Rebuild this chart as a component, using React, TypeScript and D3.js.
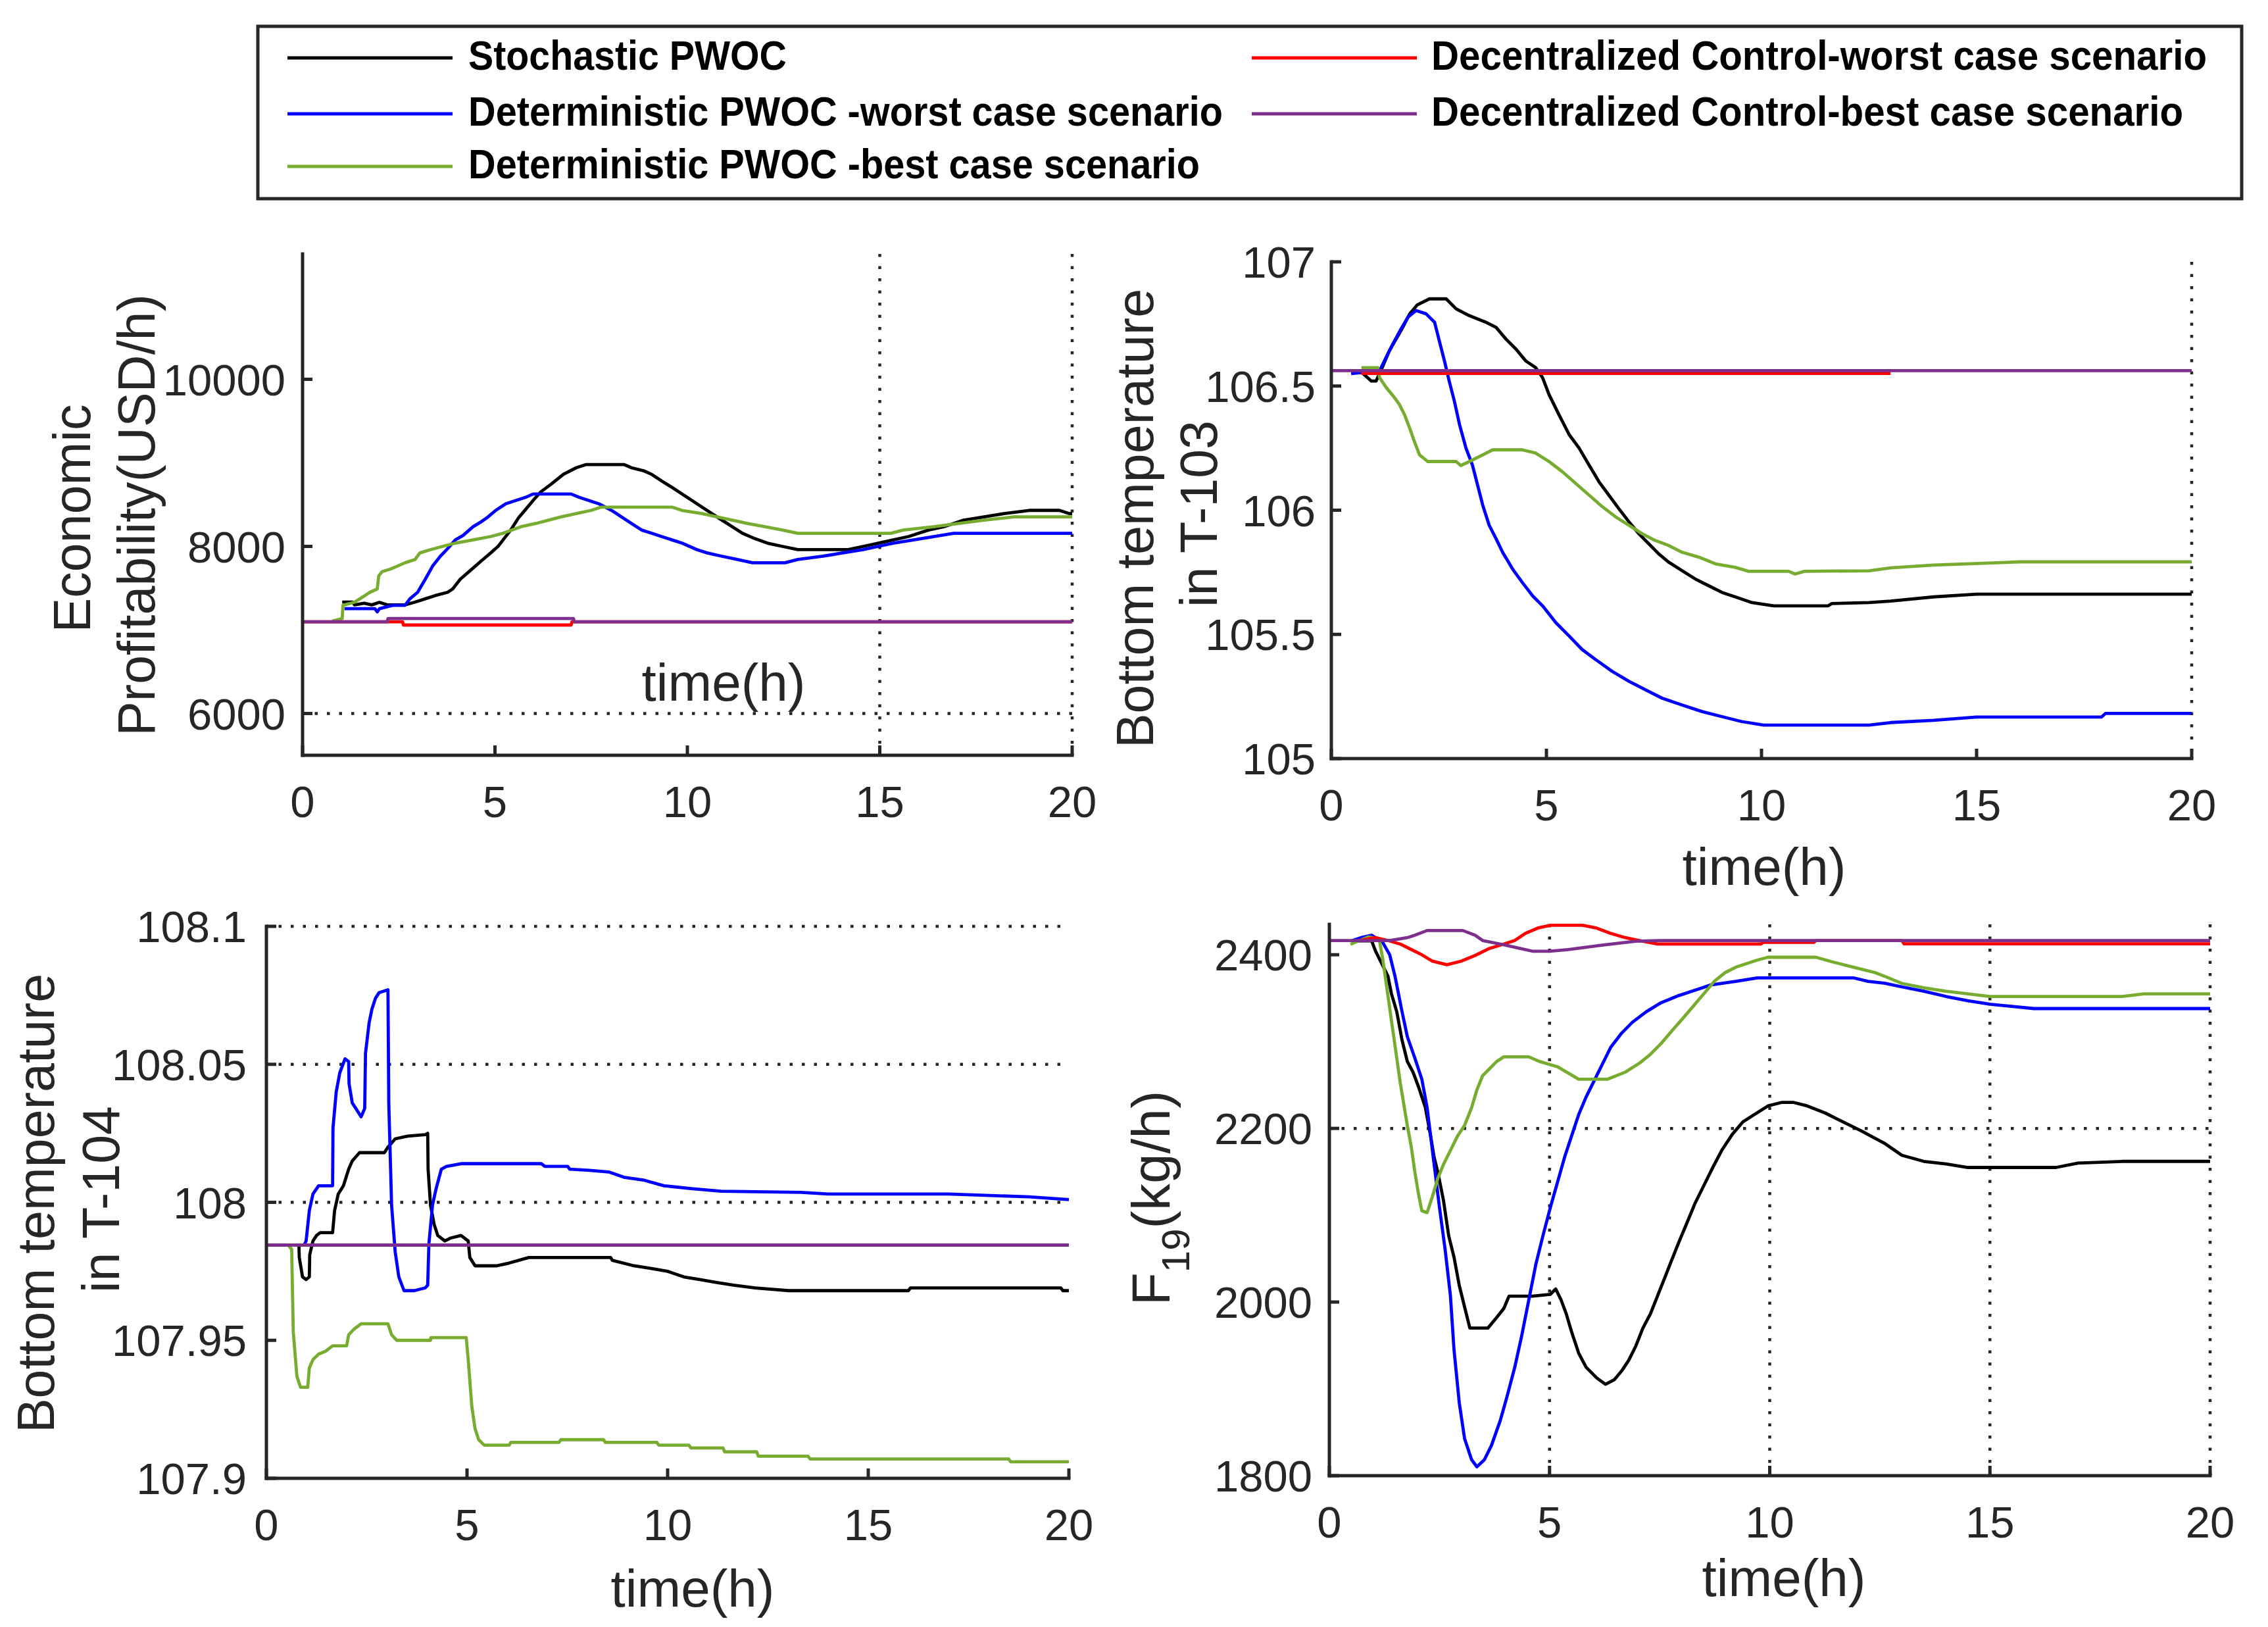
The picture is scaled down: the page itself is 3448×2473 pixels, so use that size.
import React from "react";
import * as d3 from "d3";

type Pt = [number, number];

const W = 3448;
const H = 2473;
const FONT = "'Liberation Sans', Arial, Helvetica, sans-serif";
const AXIS = "#262626";

// ---------- legend ----------
const seriesNames = [
  "Stochastic PWOC",
  "Deterministic PWOC -worst case scenario",
  "Deterministic PWOC -best case scenario",
  "Decentralized Control-worst case scenario",
  "Decentralized Control-best case scenario",
];
const seriesColors = ["#000000", "#0000FF", "#77AC30", "#FF0000", "#7E2F8E"];

// ---------- ticks ----------
const xTicks = [0, 5, 10, 15, 20];
const p1YTicks = [6000, 8000, 10000];
const p2YTicks = [105, 105.5, 106, 106.5, 107];
const p3YTicks = [107.9, 107.95, 108, 108.05, 108.1];
const p4YTicks = [1800, 2000, 2200, 2400];

// ---------- panel 1 : Economic profitability ----------
const p1Black: Pt[] = [[1.03,7333],[1.3,7333],[1.35,7300],[1.6,7320],[1.8,7300],[2.0,7330],[2.2,7300],[2.66,7300],[2.92,7333],[3.19,7373],[3.45,7412],[3.77,7451],[3.9,7490],[4.1,7608],[4.36,7712],[4.62,7817],[4.89,7922],[5.08,8000],[5.21,8078],[5.41,8196],[5.61,8340],[5.8,8444],[5.99,8549],[6.19,8653],[6.46,8745],[6.78,8863],[7.11,8941],[7.37,8980],[8.35,8980],[8.55,8941],[8.88,8902],[9.07,8863],[9.33,8784],[9.6,8706],[9.86,8627],[10.12,8549],[10.38,8470],[10.64,8392],[10.9,8314],[11.17,8235],[11.43,8157],[11.69,8105],[12.08,8039],[12.47,8000],[12.87,7961],[14.18,7961],[14.57,8000],[14.96,8039],[15.35,8078],[15.75,8118],[16.01,8157],[16.27,8196],[16.66,8235],[17.18,8314],[17.71,8353],[18.23,8392],[18.88,8431],[19.67,8431],[19.93,8392],[20,8392]];
const p1Blue: Pt[] = [[1.09,7255],[1.88,7255],[1.94,7216],[2.0,7255],[2.34,7294],[2.66,7294],[2.79,7373],[2.99,7451],[3.19,7608],[3.38,7765],[3.58,7882],[3.77,7974],[3.97,8078],[4.17,8131],[4.43,8235],[4.62,8288],[4.82,8353],[5.02,8431],[5.28,8510],[5.54,8549],[5.8,8588],[5.99,8627],[6.98,8627],[7.18,8588],[7.44,8549],[7.7,8510],[8.03,8431],[8.29,8353],[8.55,8274],[8.81,8196],[9.07,8157],[9.33,8118],[9.6,8078],[9.86,8039],[10.25,7961],[10.51,7922],[10.9,7882],[11.3,7843],[11.69,7804],[12.54,7804],[12.87,7843],[13.52,7882],[14.04,7922],[14.57,7961],[14.96,8000],[15.35,8039],[15.88,8078],[16.4,8118],[16.92,8157],[20,8157]];
const p1Green: Pt[] = [[0.77,7105],[1.03,7137],[1.05,7294],[1.35,7333],[1.49,7373],[1.62,7412],[1.75,7451],[1.94,7490],[1.98,7647],[2.07,7699],[2.27,7726],[2.47,7765],[2.66,7804],[2.92,7843],[3.05,7922],[3.32,7961],[3.64,8000],[3.97,8039],[4.43,8078],[4.89,8118],[5.21,8157],[5.67,8235],[6.06,8274],[6.39,8314],[6.72,8353],[7.11,8392],[7.5,8431],[7.76,8470],[9.6,8470],[9.86,8431],[10.38,8392],[10.77,8353],[11.17,8314],[11.56,8274],[12.02,8235],[12.47,8196],[12.87,8157],[15.29,8157],[15.61,8196],[16.4,8235],[17.05,8274],[17.71,8314],[18.49,8353],[20,8353]];
const p1Red: Pt[] = [[0,7098],[2.6,7098],[2.62,7059],[6.98,7059],[7.0,7098],[20,7098]];
const p1Purple: Pt[] = [[0,7098],[2.2,7098],[2.22,7137],[7.04,7137],[7.06,7098],[20,7098]];

// ---------- panel 2 : Bottom temperature T-103 ----------
const p2Black: Pt[] = [[0.5,106.556],[0.7,106.556],[0.93,106.52],[1.04,106.52],[1.2,106.581],[1.35,106.642],[1.66,106.736],[1.82,106.79],[2.0,106.827],[2.28,106.851],[2.67,106.851],[2.9,106.811],[3.2,106.784],[3.59,106.757],[3.83,106.736],[4.06,106.689],[4.29,106.649],[4.52,106.601],[4.75,106.574],[4.91,106.534],[5.06,106.466],[5.29,106.385],[5.53,106.304],[5.76,106.25],[5.99,106.182],[6.22,106.115],[6.45,106.061],[6.68,106.007],[6.92,105.953],[7.15,105.905],[7.38,105.865],[7.61,105.824],[7.84,105.791],[8.15,105.757],[8.46,105.723],[8.77,105.696],[9.08,105.669],[9.39,105.651],[9.78,105.628],[10.28,105.615],[11.55,105.615],[11.63,105.624],[12.5,105.628],[13,105.634],[14,105.651],[15,105.662],[20,105.662]];
const p2Blue: Pt[] = [[0.46,106.55],[1.12,106.561],[1.31,106.628],[1.43,106.669],[1.62,106.73],[1.78,106.777],[1.97,106.804],[2.2,106.791],[2.4,106.757],[2.51,106.682],[2.63,106.601],[2.74,106.52],[2.86,106.439],[2.98,106.345],[3.13,106.25],[3.28,106.182],[3.4,106.101],[3.52,106.02],[3.67,105.939],[3.83,105.885],[3.98,105.831],[4.21,105.764],[4.44,105.709],[4.68,105.655],[4.91,105.615],[5.22,105.547],[5.53,105.493],[5.83,105.439],[6.14,105.399],[6.53,105.351],[6.92,105.311],[7.3,105.277],[7.69,105.243],[8.15,105.216],[8.62,105.189],[9.08,105.169],[9.54,105.149],[10.05,105.135],[12.5,105.135],[13,105.145],[14,105.154],[15,105.167],[17.9,105.167],[18,105.182],[20,105.182]];
const p2Green: Pt[] = [[0.7,106.574],[1.08,106.574],[1.12,106.534],[1.28,106.493],[1.47,106.453],[1.58,106.426],[1.7,106.385],[1.82,106.331],[1.93,106.277],[2.05,106.223],[2.24,106.196],[2.9,106.196],[3.01,106.18],[3.21,106.196],[3.52,106.223],[3.75,106.243],[4.44,106.243],[4.75,106.23],[5.06,106.196],[5.37,106.155],[5.68,106.108],[5.99,106.061],[6.3,106.014],[6.61,105.973],[6.92,105.939],[7.23,105.905],[7.53,105.878],[7.84,105.858],[8.15,105.831],[8.54,105.811],[8.93,105.784],[9.39,105.77],[9.7,105.754],[10.63,105.754],[10.78,105.743],[11.0,105.754],[12.5,105.756],[13,105.768],[14,105.779],[16,105.792],[20,105.792]];
const p2Red: Pt[] = [[0.7,106.551],[13,106.551]];
const p2Purple: Pt[] = [[0,106.562],[20,106.562]];

// ---------- panel 3 : Bottom temperature T-104 ----------
const p3Black: Pt[] = [[0.54,107.9845],[0.81,107.9845],[0.82,107.98],[0.9,107.973],[0.99,107.972],[1.07,107.973],[1.08,107.981],[1.16,107.986],[1.25,107.988],[1.34,107.989],[1.65,107.989],[1.7,107.997],[1.79,108.003],[1.92,108.006],[2.05,108.012],[2.14,108.015],[2.32,108.018],[2.94,108.018],[3.03,108.02],[3.21,108.023],[3.52,108.024],[3.96,108.0245],[4.02,108.025],[4.03,108.012],[4.09,107.999],[4.18,107.992],[4.27,107.988],[4.45,107.986],[4.58,107.987],[4.85,107.988],[5.03,107.986],[5.07,107.98],[5.2,107.977],[5.74,107.977],[6.05,107.978],[6.54,107.98],[8.58,107.98],[8.62,107.979],[9.16,107.977],[9.6,107.976],[10.0,107.975],[10.4,107.973],[10.8,107.972],[11.2,107.971],[11.64,107.97],[12.18,107.969],[13.02,107.968],[16,107.968],[16.05,107.969],[19.8,107.969],[19.85,107.968],[20,107.968]];
const p3Blue: Pt[] = [[0.94,107.9845],[0.99,107.986],[1.07,107.997],[1.16,108.003],[1.3,108.006],[1.65,108.006],[1.66,108.027],[1.74,108.04],[1.83,108.047],[1.96,108.052],[2.05,108.051],[2.06,108.043],[2.14,108.036],[2.23,108.034],[2.36,108.031],[2.45,108.034],[2.47,108.054],[2.56,108.065],[2.63,108.07],[2.72,108.074],[2.81,108.076],[3.03,108.077],[3.05,108.036],[3.12,107.999],[3.21,107.982],[3.3,107.973],[3.43,107.968],[3.69,107.968],[3.96,107.969],[4.02,107.97],[4.05,107.985],[4.14,107.999],[4.23,108.005],[4.36,108.012],[4.49,108.013],[4.85,108.014],[6.85,108.014],[6.94,108.013],[7.51,108.013],[7.56,108.012],[8.05,108.0116],[8.53,108.011],[8.93,108.009],[9.42,108.008],[9.91,108.006],[10.58,108.005],[11.33,108.004],[13.33,108.0036],[14,108.003],[17,108.003],[19,108.002],[20,108.001]];
const p3Green: Pt[] = [[0.54,107.9845],[0.63,107.983],[0.67,107.953],[0.76,107.937],[0.85,107.933],[1.03,107.933],[1.07,107.94],[1.16,107.943],[1.3,107.945],[1.47,107.946],[1.65,107.948],[2.0,107.948],[2.05,107.952],[2.18,107.954],[2.36,107.956],[3.03,107.956],[3.12,107.952],[3.25,107.95],[4.09,107.95],[4.1,107.951],[4.98,107.951],[5.03,107.943],[5.12,107.926],[5.2,107.918],[5.29,107.914],[5.43,107.912],[6.05,107.912],[6.09,107.913],[7.29,107.913],[7.34,107.914],[8.4,107.914],[8.45,107.913],[9.73,107.913],[9.78,107.912],[10.53,107.912],[10.58,107.911],[11.38,107.911],[11.42,107.9096],[12.22,107.9096],[12.26,107.908],[13.5,107.908],[13.55,107.907],[18.5,107.907],[18.55,107.906],[20,107.906]];
const p3Red: Pt[] = [[0,107.9845],[20,107.9845]];
const p3Purple: Pt[] = [[0,107.9845],[20,107.9845]];

// ---------- panel 4 : F19 ----------
const p4Black: Pt[] = [[0.5,2416],[0.96,2416],[1.05,2404],[1.17,2391.8],[1.33,2375.4],[1.41,2355],[1.53,2334.5],[1.65,2301.7],[1.77,2277.1],[1.9,2264.8],[2.02,2248.5],[2.18,2223.9],[2.3,2191.1],[2.38,2166.5],[2.46,2150.2],[2.59,2117.4],[2.71,2076.4],[2.83,2051.9],[2.95,2019.1],[3.07,1994.5],[3.19,1970],[3.6,1970],[3.8,1982.2],[3.96,1992.5],[4.08,2006.8],[4.61,2006.8],[5.02,2008.9],[5.14,2015],[5.26,2002.7],[5.38,1986.3],[5.5,1965.8],[5.66,1941.3],[5.83,1924.9],[6.07,1912.6],[6.27,1905.2],[6.47,1910.5],[6.64,1920.8],[6.8,1933.1],[6.96,1949.5],[7.12,1970],[7.29,1986.3],[7.45,2006.8],[7.61,2027.3],[7.77,2047.8],[7.93,2068.2],[8.1,2088.7],[8.3,2113.3],[8.5,2133.8],[8.7,2154.3],[8.91,2174.7],[9.15,2193.2],[9.39,2207.5],[9.64,2215.7],[9.96,2225.9],[10.28,2230],[10.53,2230],[10.85,2225.9],[11.26,2217.7],[11.66,2207.5],[12.07,2197.3],[12.6,2183],[13,2169],[13.5,2162],[14,2159],[14.5,2155],[16.5,2155],[17,2160],[18,2162],[20,2162]];
const p4Blue: Pt[] = [[0.5,2416],[0.72,2419.7],[0.96,2422.5],[1.21,2414.3],[1.37,2400],[1.49,2375.4],[1.57,2355],[1.65,2334.5],[1.77,2305.8],[1.94,2281.2],[2.1,2256.6],[2.22,2223.9],[2.3,2191.1],[2.38,2158.3],[2.5,2109.2],[2.63,2060],[2.75,2006.8],[2.83,1945.4],[2.95,1883.9],[3.07,1842.9],[3.23,1818.4],[3.35,1810.2],[3.52,1818.4],[3.68,1834.8],[3.88,1863.4],[4.04,1892.1],[4.21,1924.9],[4.37,1961.7],[4.53,2002.7],[4.69,2043.7],[4.85,2076.4],[5.02,2109.2],[5.18,2137.9],[5.34,2166.5],[5.5,2191.1],[5.66,2215.7],[5.83,2236.2],[5.99,2252.5],[6.19,2273],[6.39,2293.5],[6.64,2309.9],[6.88,2322.2],[7.2,2334.5],[7.53,2344.7],[7.93,2352.9],[8.42,2361.1],[8.66,2365.2],[9.23,2369.3],[9.72,2373.4],[11.9,2373.4],[12.23,2369.3],[12.6,2367.2],[13,2363],[13.5,2358],[14,2352],[14.5,2347],[15,2343],[16,2338],[20,2338]];
const p4Green: Pt[] = [[0.48,2412],[0.88,2420.5],[1.13,2418.4],[1.21,2395.9],[1.29,2367.2],[1.37,2338.6],[1.45,2309.9],[1.53,2281.2],[1.61,2252.5],[1.69,2227.9],[1.77,2203.4],[1.86,2178.8],[1.94,2150.2],[2.02,2125.6],[2.1,2105.1],[2.22,2103],[2.34,2121.5],[2.46,2142],[2.59,2158.3],[2.75,2174.7],[2.91,2191.1],[3.07,2203.4],[3.23,2223.9],[3.35,2244.4],[3.48,2260.7],[3.64,2268.9],[3.8,2277.1],[3.96,2282.4],[4.53,2282.4],[4.77,2277.1],[5.18,2271],[5.66,2256.6],[6.31,2256.6],[6.72,2264.8],[7.04,2275.1],[7.29,2285.3],[7.53,2297.6],[7.77,2311.9],[8.02,2326.3],[8.26,2340.6],[8.5,2354.9],[8.74,2369.3],[8.99,2379.5],[9.23,2385.7],[9.47,2389.8],[9.72,2393.9],[9.96,2397.1],[11.05,2397.1],[11.42,2391.8],[11.9,2385.7],[12.39,2379.5],[12.6,2375.4],[13,2367],[13.5,2362],[14,2358],[15,2352],[18,2352],[18.5,2355],[20,2355]];
const p4Red: Pt[] = [[0.64,2416],[1.05,2419.7],[1.33,2416.4],[1.61,2412.3],[1.86,2406],[2.1,2400],[2.34,2392.6],[2.67,2388.5],[2.99,2392.6],[3.31,2399.2],[3.64,2407.4],[3.96,2412.3],[4.21,2416.4],[4.45,2424.6],[4.73,2430.7],[5.02,2434],[5.75,2434],[6.07,2430.7],[6.39,2424.6],[6.72,2419.7],[7.04,2416.4],[7.45,2412.3],[9.8,2412.3],[9.85,2414.3],[11,2414.3],[11.05,2416.4],[13,2416.4],[13.05,2412.5],[20,2412.5]];
const p4Purple: Pt[] = [[0,2416.4],[1.37,2416.4],[1.77,2419.7],[1.94,2422.5],[2.22,2427.9],[3.03,2427.9],[3.31,2422.5],[3.48,2416.4],[3.96,2411.5],[4.25,2408.2],[4.61,2404.1],[5.0,2404.1],[5.42,2406],[6.19,2411],[6.96,2415.6],[7.5,2416.4],[20,2416.4]];

type PanelProps = {
  x0: number; x1: number; yTop: number; yBot: number;
  yDomain: [number, number];
  yTicks: number[];
  gridX: number[];
  gridY: number[];
  series: Pt[][];
  tickGap: number;
  timeX: number; timeY: number;
};

const Panel: React.FC<PanelProps> = (p) => {
  const xs = d3.scaleLinear().domain([0, 20]).range([p.x0, p.x1]);
  const ys = d3.scaleLinear().domain(p.yDomain).range([p.yBot, p.yTop]);
  const line = d3.line<Pt>().x((d) => xs(d[0])).y((d) => ys(d[1])).curve(d3.curveLinear);
  const dot = { stroke: AXIS, strokeWidth: 4.5, strokeDasharray: "4.5 14", fill: "none" };
  return (
    <g>
      {p.gridX.map((v) => (
        <line key={"gx" + v} x1={xs(v)} x2={xs(v)} y1={p.yTop} y2={p.yBot} {...dot} />
      ))}
      {p.gridY.map((v) => (
        <line key={"gy" + v} x1={p.x0} x2={p.x1} y1={ys(v)} y2={ys(v)} {...dot} />
      ))}
      {p.series.map((s, i) => (
        <path key={"s" + i} d={line(s) || ""} fill="none" stroke={seriesColors[i]} strokeWidth={4.8} strokeLinejoin="round" />
      ))}
      <line x1={p.x0} x2={p.x0} y1={p.yTop} y2={p.yBot} stroke={AXIS} strokeWidth={5} strokeLinecap="square" />
      <line x1={p.x0} x2={p.x1} y1={p.yBot} y2={p.yBot} stroke={AXIS} strokeWidth={5} strokeLinecap="square" />
      {p.yTicks.map((v) => (
        <g key={"yt" + v}>
          <line x1={p.x0} x2={p.x0 + 15} y1={ys(v)} y2={ys(v)} stroke={AXIS} strokeWidth={5} />
          <text x={p.x0 - p.tickGap} y={ys(v) + 24} textAnchor="end" fontSize={67} fill={AXIS} fontFamily={FONT}>
            {String(v)}
          </text>
        </g>
      ))}
      {xTicks.map((v) => (
        <g key={"xt" + v}>
          <line x1={xs(v)} x2={xs(v)} y1={p.yBot} y2={p.yBot - 15} stroke={AXIS} strokeWidth={5} />
          <text x={xs(v)} y={p.yBot + 94} textAnchor="middle" fontSize={67} fill={AXIS} fontFamily={FONT}>
            {String(v)}
          </text>
        </g>
      ))}
      <text x={p.timeX} y={p.timeY} textAnchor="middle" fontSize={80} fill={AXIS} fontFamily={FONT}>
        time(h)
      </text>
    </g>
  );
};

const Legend: React.FC = () => {
  const rows = [
    { name: seriesNames[0], color: seriesColors[0], lx: 437, tx: 712, y: 88, w: 484 },
    { name: seriesNames[1], color: seriesColors[1], lx: 437, tx: 712, y: 173, w: 1147 },
    { name: seriesNames[2], color: seriesColors[2], lx: 437, tx: 712, y: 253, w: 1112 },
    { name: seriesNames[3], color: seriesColors[3], lx: 1903, tx: 2176, y: 88, w: 1179 },
    { name: seriesNames[4], color: seriesColors[4], lx: 1903, tx: 2176, y: 173, w: 1143 },
  ];
  return (
    <g>
      <rect x={392} y={40} width={3016} height={262} fill="#fff" stroke={AXIS} strokeWidth={5} />
      {rows.map((r) => (
        <g key={r.name}>
          <line x1={r.lx} x2={r.lx + 251} y1={r.y} y2={r.y} stroke={r.color} strokeWidth={5} />
          <text
            x={r.tx}
            y={r.y + 18}
            fontSize={63}
            fontWeight="bold"
            fontFamily={FONT}
            fill="#000"
            textLength={r.w}
            lengthAdjust="spacingAndGlyphs"
          >
            {r.name}
          </text>
        </g>
      ))}
    </g>
  );
};

const YLabel: React.FC<{ x: number; y: number; text: string }> = ({ x, y, text }) => (
  <text
    transform={`translate(${x},${y}) rotate(-90)`}
    textAnchor="middle"
    fontSize={79}
    fill={AXIS}
    fontFamily={FONT}
  >
    {text}
  </text>
);

export default function App() {
  return (
    <svg
      width={W}
      height={H}
      viewBox={`0 0 ${W} ${H}`}
      style={{ position: "absolute", left: 0, top: 0, background: "#fff" }}
    >
      <rect x={0} y={0} width={W} height={H} fill="#fff" />
      <Legend />

      <Panel
        x0={460} x1={1630} yTop={386} yBot={1148}
        yDomain={[5500, 11500]} yTicks={p1YTicks}
        gridX={[15, 20]} gridY={[6000]}
        series={[p1Black, p1Blue, p1Green, p1Red, p1Purple]}
        tickGap={26} timeX={1100} timeY={1065}
      />
      <YLabel x={137} y={788} text="Economic" />
      <YLabel x={235} y={783} text="Profitability(USD/h)" />

      <Panel
        x0={2024} x1={3332} yTop={398} yBot={1153}
        yDomain={[105, 107]} yTicks={p2YTicks}
        gridX={[20]} gridY={[]}
        series={[p2Black, p2Blue, p2Green, p2Red, p2Purple]}
        tickGap={24} timeX={2682} timeY={1345}
      />
      <YLabel x={1753} y={788} text="Bottom temperature" />
      <YLabel x={1850} y={781} text="in T-103" />

      <Panel
        x0={405} x1={1625} yTop={1408} yBot={2247}
        yDomain={[107.9, 108.1]} yTicks={p3YTicks}
        gridX={[]} gridY={[108, 108.05, 108.1]}
        series={[p3Black, p3Blue, p3Green, p3Red, p3Purple]}
        tickGap={30} timeX={1053} timeY={2442}
      />
      <YLabel x={82} y={1829} text="Bottom temperature" />
      <YLabel x={181} y={1823} text="in T-104" />

      <Panel
        x0={2021} x1={3360} yTop={1405} yBot={2243}
        yDomain={[1800, 2435]} yTicks={p4YTicks}
        gridX={[5, 10, 15, 20]} gridY={[2200]}
        series={[p4Black, p4Blue, p4Green, p4Red, p4Purple]}
        tickGap={26} timeX={2712} timeY={2426}
      />
      <text
        transform={`translate(${1778},${1821}) rotate(-90)`}
        textAnchor="middle"
        fontSize={82}
        fill={AXIS}
        fontFamily={FONT}
      >
        F
        <tspan fontSize={60} dy={30}>19</tspan>
        <tspan dy={-30}>(kg/h)</tspan>
      </text>
    </svg>
  );
}
